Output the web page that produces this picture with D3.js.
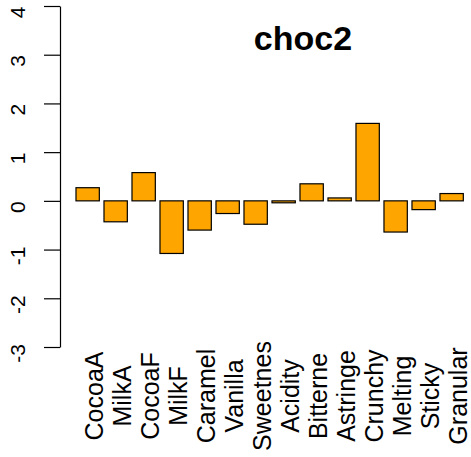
<!DOCTYPE html>
<html>
<head>
<meta charset="utf-8">
<script src="https://cdn.jsdelivr.net/npm/d3@7"></script>
<style>
  html, body { margin: 0; padding: 0; background: #fff; }
  svg { display: block; font-family: "Liberation Sans", Arial, sans-serif; }
</style>
</head>
<body>
<svg id="chart" width="471" height="457"></svg>
<script>
// Attribute names and their scores for choc2
const attributes = ["CocoaA", "MilkA", "CocoaF", "MilkF", "Caramel", "Vanilla", "Sweetnes",
                    "Acidity", "Bitterne", "Astringe", "Crunchy", "Melting", "Sticky", "Granular"];
const scores = [0.27, -0.43, 0.58, -1.08, -0.60, -0.26, -0.48,
                -0.04, 0.35, 0.06, 1.59, -0.64, -0.18, 0.15];
const yTicks = [-3, -2, -1, 0, 1, 2, 3, 4];
const chartTitle = "choc2";

const svg = d3.select("#chart");

// Bars sit in slots of width 1 separated by a 0.2 gap, like a classic barplot
const barWidth = 1, gap = 0.2;
const lefts = attributes.map((_, i) => gap + i * (barWidth + gap));
const xMin = gap, xMax = gap + attributes.length * (barWidth + gap) - gap;
const pad = (xMax - xMin) * 0.04;

const x = d3.scaleLinear().domain([xMin - pad, xMax + pad]).range([60.5, 478.8]);
const y = d3.scaleLinear().domain([-3, 4]).range([347, 6]);

// Bars
svg.append("g")
  .selectAll("rect")
  .data(scores)
  .join("rect")
  .attr("x", (d, i) => x(lefts[i]))
  .attr("width", (d, i) => x(lefts[i] + barWidth) - x(lefts[i]))
  .attr("y", d => y(Math.max(0, d)))
  .attr("height", d => Math.abs(y(d) - y(0)))
  .attr("fill", "#FFA500")
  .attr("stroke", "#000")
  .attr("stroke-width", 1.2);

// Left axis with labels running parallel to it (plain hyphen for negatives)
const yAxis = svg.append("g")
  .attr("transform", "translate(60,0)")
  .call(d3.axisLeft(y).tickValues(yTicks).tickSize(16).tickSizeOuter(0).tickFormat(d => String(d)));
yAxis.attr("font-size", 21).attr("font-family", "'Liberation Sans', Arial, sans-serif");
yAxis.selectAll("path, line").attr("stroke", "#000").attr("stroke-width", 1.2);
yAxis.selectAll("text")
  .attr("x", null).attr("dy", null)
  .attr("transform", "translate(-35,5.8) rotate(-90)")
  .attr("text-anchor", "middle")
  .attr("fill", "#000")
  .style("font-size", "21px");

// Category names, rotated
svg.append("g")
  .selectAll("text")
  .data(attributes)
  .join("text")
  .attr("transform", (d, i) => `translate(${x(lefts[i] + barWidth / 2) + 15.5},396) rotate(-90)`)
  .attr("text-anchor", "middle")
  .style("font-size", "25px")
  .attr("fill", "#000")
  .text(d => d);

// Title
svg.append("text")
  .attr("x", 303)
  .attr("y", 50)
  .attr("text-anchor", "middle")
  .style("font-size", "34px")
  .style("font-weight", "bold")
  .attr("fill", "#000")
  .text(chartTitle);
</script>
</body>
</html>
